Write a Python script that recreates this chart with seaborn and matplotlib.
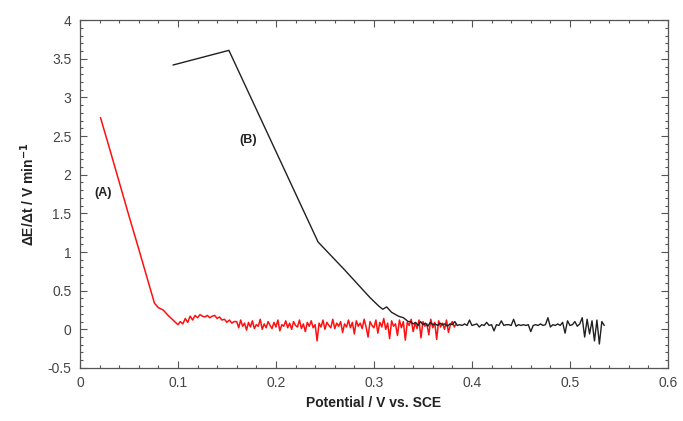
import numpy as np
import pandas as pd
import seaborn as sns
import matplotlib.pyplot as plt
from matplotlib.ticker import MultipleLocator

# curve (A), red: steep drop then noisy baseline
red_x_head = [0.021, 0.03, 0.04, 0.05, 0.06, 0.07, 0.076, 0.08, 0.085, 0.09, 0.095]
red_y_head = [2.74, 2.35, 1.91, 1.47, 1.04, 0.60, 0.34, 0.28, 0.25, 0.18, 0.12]
red_plateau = [0.06, 0.10, 0.07, 0.14, 0.09, 0.17, 0.12, 0.18, 0.15, 0.19, 0.17, 0.16,
               0.18, 0.15, 0.17, 0.18, 0.14, 0.16, 0.12, 0.13, 0.09, 0.12, 0.08, 0.10]
red_noise = [0.10, 0.02, 0.12, 0.04, 0.08, -0.01, 0.09, 0.03, 0.11, 0.01,
             0.06, 0.04, 0.13, 0.00, 0.07, 0.02, 0.10, 0.05, 0.01, 0.09,
             0.03, 0.12, -0.02, 0.06, 0.04, 0.11, 0.02, 0.08, 0.00, 0.10,
             0.05, 0.03, 0.12, 0.01, 0.07, -0.03, 0.09, 0.04, 0.11, 0.02,
             0.06, -0.15, 0.08, 0.03, 0.12, 0.00, 0.09, 0.05, 0.02, 0.13,
             0.01, 0.08, 0.04, 0.10, -0.04, 0.07, 0.03, 0.12, 0.02, 0.09,
             -0.06, 0.11, 0.04, 0.08, 0.01, 0.13, 0.03, -0.10, 0.10, 0.05,
             0.02, 0.12, -0.05, 0.09, 0.03, 0.14, 0.00, 0.08, -0.12, 0.11,
             0.04, 0.07, -0.08, 0.12, 0.02, 0.10, -0.14, 0.09, 0.05, 0.13,
             -0.03, 0.08, 0.01, 0.12, -0.11, 0.10, 0.04, 0.07, -0.07, 0.13,
             0.02, 0.09, -0.13, 0.11, 0.03, 0.08, 0.00, 0.12, -0.04, 0.06,
             0.10, 0.03, 0.07]

# curve (B), black
black_x_head = [0.095, 0.152, 0.243, 0.27, 0.296, 0.305, 0.309, 0.313, 0.318, 0.325, 0.33, 0.335]
black_y_head = [3.42, 3.61, 1.13, 0.77, 0.41, 0.30, 0.26, 0.29, 0.22, 0.17, 0.15, 0.10]
black_noise = [0.10, 0.07, 0.09, 0.05, 0.10, 0.06, 0.08, 0.04, 0.09, 0.06,
               0.07, 0.05, 0.08, 0.06, 0.07, 0.04, 0.07, 0.06, 0.10, 0.05,
               0.06, 0.05, 0.07, 0.05, 0.12, 0.05, 0.06, 0.07, 0.03, 0.06,
               0.05, 0.09, 0.05, 0.06, -0.02, 0.06, 0.05, 0.11, 0.05, 0.06,
               0.06, 0.05, 0.13, 0.04, 0.06, 0.05, 0.06, 0.05, 0.06, -0.03,
               0.05, 0.06, 0.05, 0.07, 0.05, 0.06, 0.15, 0.03, 0.06, 0.05,
               0.07, 0.05, 0.09, -0.05, 0.11, 0.05, 0.06, 0.10, 0.04, 0.07,
               0.15, -0.10, 0.13, -0.06, 0.11, -0.15, 0.12, -0.19, 0.10, 0.05]

red_x = red_x_head + list(0.1 + 0.0025 * np.arange(len(red_plateau))) + list(0.16 + 0.002 * np.arange(len(red_noise)))
red_y = red_y_head + red_plateau + red_noise
black_x = black_x_head + list(0.3375 + 0.0025 * np.arange(len(black_noise)))
black_y = black_y_head + black_noise

df_a = pd.DataFrame({'E': red_x, 'rate': red_y})
df_b = pd.DataFrame({'E': black_x, 'rate': black_y})

sns.set_style("ticks")
plt.rcParams['font.family'] = ['Liberation Sans', 'DejaVu Sans']

fig = plt.figure(figsize=(6.83, 4.21), dpi=100)
ax = fig.add_axes([0.117, 0.126, 0.861, 0.826])

sns.lineplot(data=df_a, x='E', y='rate', sort=False, estimator=None, color='#ff1010', lw=1.1, ax=ax)
sns.lineplot(data=df_b, x='E', y='rate', sort=False, estimator=None, color='#202020', lw=1.0, ax=ax)

ax.text(0.024, 1.76, '(A)', fontsize=9, fontweight='bold', ha='center', va='center', color='#222222')
ax.text(0.172, 2.45, '(B)', fontsize=9, fontweight='bold', ha='center', va='center', color='#222222')

ax.set_xlim(0, 0.6)
ax.set_ylim(-0.5, 4)
ax.xaxis.set_minor_locator(MultipleLocator(0.02))
ax.yaxis.set_minor_locator(MultipleLocator(0.1))
ax.set_xticks(np.arange(0, 0.61, 0.1))
ax.set_xticklabels(['0', '0.1', '0.2', '0.3', '0.4', '0.5', '0.6'])
ax.set_yticks(np.arange(-0.5, 4.01, 0.5))
ax.set_yticklabels(['-0.5', '0', '0.5', '1', '1.5', '2', '2.5', '3', '3.5', '4'])
ax.tick_params(which='both', direction='in', top=True, right=True, color='#555555',
               labelsize=10, labelcolor='#444444', width=0.8)
ax.tick_params(which='major', length=5, pad=6)
ax.tick_params(which='minor', length=2.5)
for s in ax.spines.values():
    s.set_color('#555555')
    s.set_linewidth(0.9)

ax.set_xlabel('Potential / V vs. SCE', fontsize=10, fontweight='bold', color='#222222', labelpad=4)
ax.set_ylabel(r'ΔE/Δt / V min$^{\mathbf{-1}}$', fontsize=10, fontweight='bold', color='#222222', labelpad=8)

fig.savefig('out.png', dpi=100, facecolor='white')
